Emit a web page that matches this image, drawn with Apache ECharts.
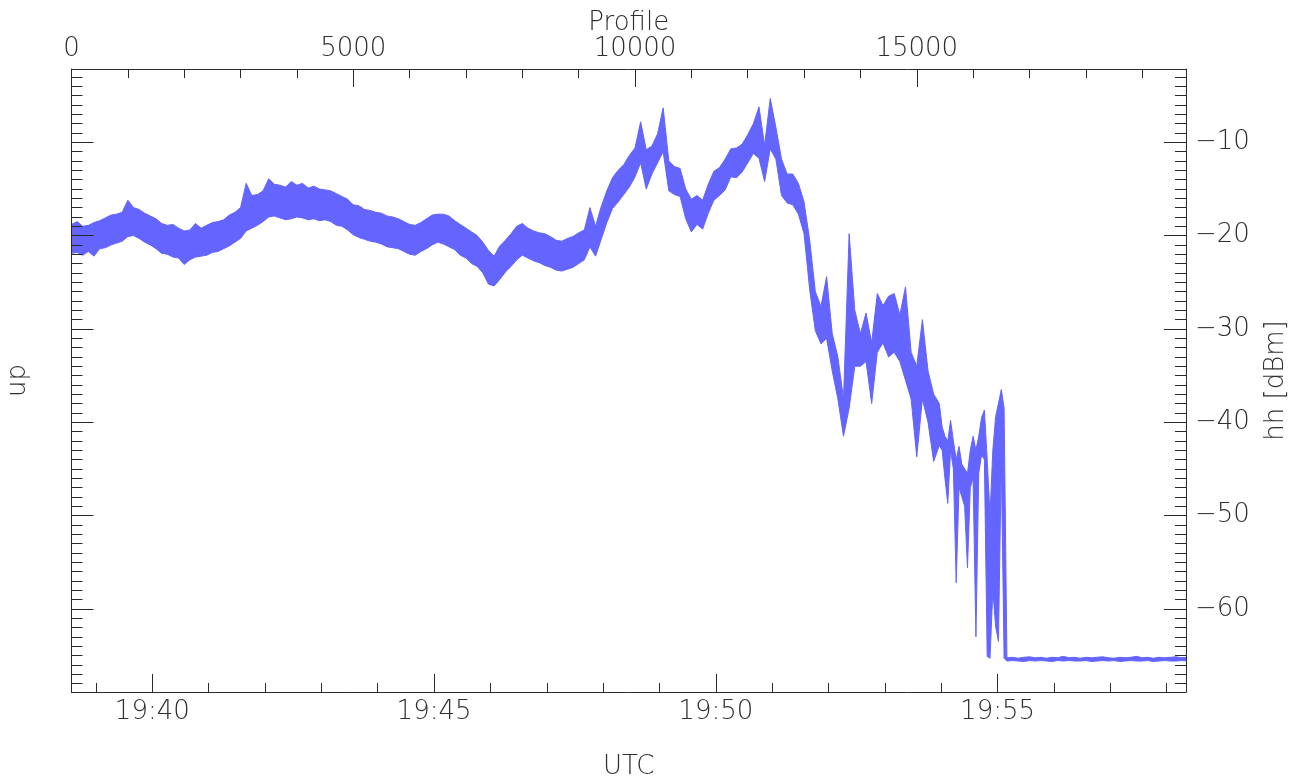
<!DOCTYPE html>
<html><head><meta charset="utf-8">
<script src="https://cdn.jsdelivr.net/npm/echarts@6/dist/echarts.min.js"></script>
<style>html,body{margin:0;padding:0;background:#fff}#c{width:1308px;height:781px}</style>
</head><body><div id="c"></div>
<script>
// Sampling of the record (profile numbers): coarse part, fine part (fading), tail
const coarseStart = 0, coarseStep = 100;
const fineStart = 15450, fineStep = 50;
const tailStart = 16600, tailStep = 100;

// Upper / lower envelope of hh [dBm], profiles 0..15400
const hhHigh = [
 -18.8,-18.5,-19.0,-18.9,-18.6,-18.4,-18.1,-17.8,-17.7,-17.5,
 -16.2,-17.0,-17.2,-17.6,-17.9,-18.2,-18.7,-18.9,-18.8,-19.2,
 -19.5,-19.4,-18.7,-19.2,-18.9,-18.6,-18.5,-18.3,-17.8,-17.5,
 -17.0,-14.4,-15.7,-15.6,-15.2,-13.9,-14.5,-14.6,-14.8,-14.2,
 -14.6,-14.4,-14.9,-14.7,-15.0,-15.1,-15.2,-15.5,-15.8,-16.1,
 -16.7,-16.8,-17.2,-17.3,-17.5,-17.6,-17.9,-18.0,-18.2,-18.5,
 -18.8,-18.9,-18.6,-18.2,-17.8,-17.7,-17.7,-17.9,-18.4,-18.8,
 -19.2,-19.6,-20.0,-20.7,-21.6,-22.2,-21.1,-20.5,-19.8,-19.0,
 -18.7,-19.2,-19.5,-19.7,-19.8,-20.1,-20.5,-20.6,-20.3,-20.1,
 -19.7,-19.4,-17.0,-19.0,-16.9,-15.2,-13.8,-13.0,-12.4,-11.4,
 -10.6,-7.8,-10.8,-10.4,-9.1,-6.3,-12.0,-12.6,-12.8,-15.0,
 -16.1,-15.7,-16.2,-14.5,-13.1,-12.7,-11.8,-10.7,-10.6,-10.2,
 -9.2,-8.0,-6.2,-10.3,-5.3,-8.4,-11.8,-13.4,-13.4,-14.4,
 -16.4,-20.5,-26.0,-27.6,-24.4,-30.5,-33.0,-37.5,-19.8,-28.0,
 -30.5,-28.3,-31.5,-26.2,-27.5,-26.5,-26.2,-28.5,-25.5,-32.5,
 -34.0,-29.0,-34.5,-37.0,-38.0
];
const hhLow = [
 -21.9,-21.8,-22.1,-21.7,-22.2,-21.4,-21.3,-21.0,-20.8,-20.6,
 -20.1,-20.0,-20.3,-20.7,-21.0,-21.4,-21.9,-22.0,-22.3,-22.4,
 -23.1,-22.6,-22.3,-22.2,-22.1,-21.8,-21.7,-21.4,-21.1,-20.7,
 -20.3,-19.5,-19.2,-18.9,-18.5,-18.0,-17.9,-18.1,-18.3,-18.2,
 -18.0,-18.1,-18.3,-18.2,-18.4,-18.3,-18.5,-18.9,-19.0,-19.4,
 -19.9,-20.2,-20.4,-20.6,-20.7,-20.9,-21.2,-21.3,-21.4,-21.7,
 -22.0,-22.1,-21.7,-21.4,-21.0,-20.7,-20.9,-21.2,-21.5,-22.1,
 -22.4,-23.0,-23.3,-24.0,-25.2,-25.4,-24.7,-23.9,-23.3,-22.6,
 -22.1,-22.4,-22.7,-22.9,-23.2,-23.4,-23.7,-23.8,-23.6,-23.4,
 -23.0,-22.6,-21.2,-22.2,-20.4,-18.6,-17.1,-16.4,-15.6,-14.8,
 -13.7,-12.2,-15.0,-13.4,-12.2,-11.0,-15.2,-15.6,-15.8,-18.2,
 -19.6,-18.8,-19.3,-17.6,-16.2,-15.7,-15.1,-13.7,-13.8,-13.2,
 -12.2,-11.2,-11.7,-14.2,-10.7,-11.8,-15.7,-16.5,-16.7,-17.7,
 -19.8,-25.8,-30.2,-31.6,-31.0,-34.5,-37.5,-41.5,-38.5,-34.0,
 -34.0,-33.5,-38.0,-32.5,-31.5,-33.0,-32.5,-33.5,-35.5,-37.5,
 -43.7,-37.5,-40.0,-44.2,-42.5
];
// Envelope during the fading, profiles 15450..16550
const hhHighFine = [
 -40.5,-41.5,-42.0,-39.8,-42.0,-44.0,-42.6,-44.5,-45.0,-45.5,
 -43.0,-41.5,-43.0,-41.5,-39.5,-38.7,-44.0,-50.0,-43.0,-39.4,
 -38.0,-36.5,-38.5
];
const hhLowFine = [
 -43.0,-46.0,-48.7,-43.0,-45.0,-57.2,-47.0,-48.0,-49.0,-55.6,
 -47.0,-46.0,-63.0,-45.5,-43.5,-44.0,-65.1,-65.3,-58.0,-61.9,
 -63.5,-44.0,-65.3
];
// Envelope of the noise floor, profiles 16600..19800
const hhHighTail = [
 -65.25,-65.2,-65.3,-65.2,-65.15,-65.25,-65.2,-65.3,-65.2,-65.25,-65.1,
 -65.25,-65.2,-65.3,-65.2,-65.25,-65.2,-65.15,-65.25,-65.3,-65.2,-65.25,
 -65.2,-65.1,-65.25,-65.2,-65.3,-65.2,-65.25,-65.2,-65.15,-65.25,-65.2
];
const hhLowTail = [
 -65.6,-65.55,-65.6,-65.65,-65.55,-65.6,-65.55,-65.6,-65.65,-65.55,-65.6,
 -65.55,-65.6,-65.6,-65.55,-65.65,-65.6,-65.55,-65.6,-65.55,-65.65,-65.6,
 -65.55,-65.6,-65.6,-65.55,-65.65,-65.6,-65.55,-65.6,-65.6,-65.55,-65.6
];

const profileRange = [0, 19778];
const utcMinuteRange = [38.566, 58.344]; // minutes after 19:00
const hhRange = [-68.92, -2.14];
const profileMajor = 5000, profileMinor = 1000;
const utcMajor = 5, utcMinor = 1;
const hhMajor = 10, hhMinor = 1;
const utcHour = '19';

const lineColor = '#6464ff';
const axisColor = '#2a2a2a';
const font = {fontFamily: 'DejaVu Sans', fontSize: 26, fontWeight: 200, color: '#2e2e2e'};
const axisLine = {show: true, lineStyle: {color: axisColor, width: 1}};

function majorTick(len) { return {show: true, inside: true, length: len, lineStyle: {color: axisColor, width: 1}}; }
function pairs(values, start, step) { return values.map((v, i) => [start + i * step, v]); }

const highData = [].concat(pairs(hhHigh, coarseStart, coarseStep),
                           pairs(hhHighFine, fineStart, fineStep),
                           pairs(hhHighTail, tailStart, tailStep));
const lowData = [].concat(pairs(hhLow, coarseStart, coarseStep),
                          pairs(hhLowFine, fineStart, fineStep),
                          pairs(hhLowTail, tailStart, tailStep));

const chart = echarts.init(document.getElementById('c'), null, {renderer: 'canvas'});
chart.setOption({
  animation: false,
  backgroundColor: '#fff',
  grid: {left: 71.5, right: 122, top: 69, bottom: 89, containLabel: false, outerBoundsMode: 'none'},
  xAxis: [
    {type: 'value', position: 'bottom', min: utcMinuteRange[0], max: utcMinuteRange[1],
     minInterval: utcMajor, maxInterval: utcMajor, z: 5,
     axisLine: axisLine, axisTick: majorTick(18), splitLine: {show: false},
     axisLabel: Object.assign({margin: 7, showMinLabel: false, showMaxLabel: false,
       formatter: v => utcHour + ':' + String(Math.round(v)).padStart(2, '0')}, font),
     name: 'UTC', nameLocation: 'middle', nameGap: 62, nameMoveOverlap: false, nameTextStyle: font},
    {type: 'value', position: 'bottom', min: utcMinuteRange[0], max: utcMinuteRange[1],
     minInterval: utcMinor, maxInterval: utcMinor, z: 5,
     axisLine: {show: false}, axisTick: majorTick(9), axisLabel: {show: false}, splitLine: {show: false}},
    {type: 'value', position: 'top', min: profileRange[0], max: profileRange[1],
     minInterval: profileMajor, maxInterval: profileMajor, z: 5,
     axisLine: axisLine, axisTick: majorTick(18), splitLine: {show: false},
     axisLabel: Object.assign({margin: 7, showMinLabel: true, showMaxLabel: false,
       formatter: v => String(Math.round(v))}, font),
     name: 'Profile', nameLocation: 'middle', nameGap: 33, nameMoveOverlap: false, nameTextStyle: font},
    {type: 'value', position: 'top', min: profileRange[0], max: profileRange[1],
     minInterval: profileMinor, maxInterval: profileMinor, z: 5,
     axisLine: {show: false}, axisTick: majorTick(9), axisLabel: {show: false}, splitLine: {show: false}}
  ],
  yAxis: [
    {type: 'value', position: 'left', min: hhRange[0], max: hhRange[1],
     minInterval: hhMajor, maxInterval: hhMajor, z: 5,
     axisLine: axisLine, axisTick: majorTick(22), axisLabel: {show: false}, splitLine: {show: false},
     name: 'up', nameLocation: 'middle', nameGap: 40, nameRotate: 90, nameMoveOverlap: false, nameTextStyle: font},
    {type: 'value', position: 'left', min: hhRange[0], max: hhRange[1],
     minInterval: hhMinor, maxInterval: hhMinor, z: 5,
     axisLine: {show: false}, axisTick: majorTick(11), axisLabel: {show: false}, splitLine: {show: false}},
    {type: 'value', position: 'right', min: hhRange[0], max: hhRange[1],
     minInterval: hhMajor, maxInterval: hhMajor, z: 5,
     axisLine: axisLine, axisTick: majorTick(22), splitLine: {show: false},
     axisLabel: Object.assign({margin: 9, showMinLabel: false, showMaxLabel: false,
       formatter: v => (v < 0 ? '\u2212' : '') + Math.abs(Math.round(v))}, font),
     name: 'hh [dBm]', nameLocation: 'middle', nameGap: 77, nameRotate: 90, nameMoveOverlap: false, nameTextStyle: font},
    {type: 'value', position: 'right', min: hhRange[0], max: hhRange[1],
     minInterval: hhMinor, maxInterval: hhMinor, z: 5,
     axisLine: {show: false}, axisTick: majorTick(11), axisLabel: {show: false}, splitLine: {show: false}}
  ],
  series: [
    // upper envelope, filled in blue down to the axis
    {type: 'line', name: 'hh', xAxisIndex: 2, yAxisIndex: 2, data: highData,
     symbol: 'none', silent: true, z: 2,
     color: lineColor, lineStyle: {color: lineColor, width: 1},
     areaStyle: {color: lineColor, opacity: 1, origin: 'start'}},
    // lower envelope, background below it so only the band between stays blue
    {type: 'line', name: 'hh low', xAxisIndex: 2, yAxisIndex: 2, data: lowData,
     symbol: 'none', silent: true, z: 3,
     color: lineColor, lineStyle: {color: lineColor, width: 1},
     areaStyle: {color: '#ffffff', opacity: 1, origin: 'start'}}
  ]
});
</script>
</body></html>
